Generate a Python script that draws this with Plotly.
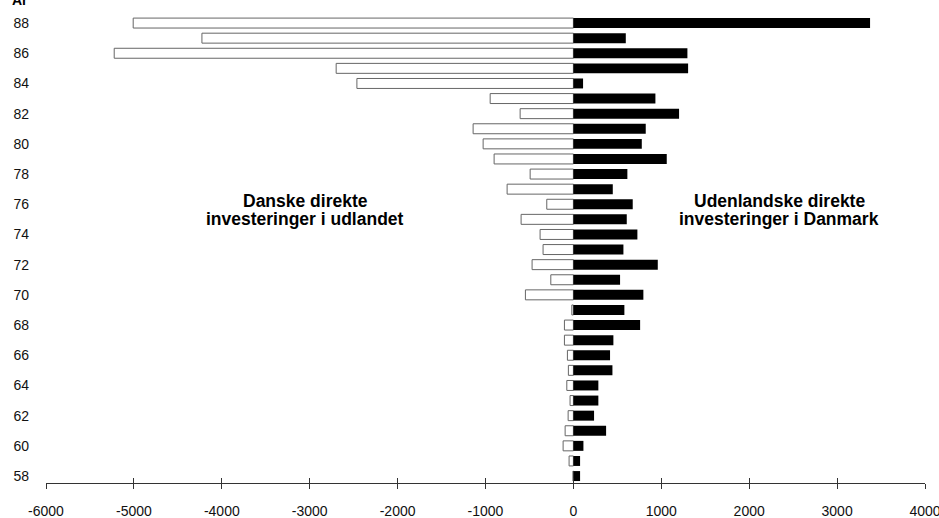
import plotly.graph_objects as go

years = list(range(58, 89))
# Danske direkte investeringer i udlandet (mio. kr.), 1958..1988
danish_abroad = [-5, -49, -117, -94, -60, -38, -75, -57, -68, -102, -102, -18,
                 -546, -257, -470, -345, -379, -595, -303, -754, -492, -902,
                 -1027, -1141, -606, -947, -2463, -2699, -5224, -4226, -5008]
# Udenlandske direkte investeringer i Danmark (mio. kr.), 1958..1988
foreign_in_dk = [76, 76, 114, 372, 235, 284, 284, 444, 417, 455, 759, 580,
                 796, 531, 960, 569, 728, 607, 675, 448, 614, 1062,
                 778, 823, 1202, 933, 110, 1305, 1297, 596, 3375]

x_ticks = list(range(-6000, 4001, 1000))
y_ticks = list(range(58, 89, 2))

FONT = "Liberation Sans, Arial, Helvetica, sans-serif"

fig = go.Figure()
fig.add_trace(go.Bar(
    y=years, x=danish_abroad, orientation="h",
    marker=dict(color="white", line=dict(color="#666666", width=1)),
    name="Danske direkte investeringer i udlandet", showlegend=False,
))
fig.add_trace(go.Bar(
    y=years, x=foreign_in_dk, orientation="h",
    marker=dict(color="black", line=dict(color="black", width=0)),
    name="Udenlandske direkte investeringer i Danmark", showlegend=False,
))
# invisible trace on overlay axis for crossing ticks
fig.add_trace(go.Scatter(x=[x_ticks[0], x_ticks[-1]], y=[years[0], years[0]],
                         xaxis="x2", mode="markers", marker=dict(opacity=0),
                         hoverinfo="skip", showlegend=False))

left_x = (305 - 573.3) / 0.08793
right_x = (779 - 573.3) / 0.08793

fig.update_layout(
    width=939, height=518,
    margin=dict(l=46, r=14, t=14, b=35),
    paper_bgcolor="white", plot_bgcolor="white",
    barmode="overlay", bargap=0.34,
    font=dict(family=FONT, size=14, color="#111111"),
    xaxis=dict(range=[-6000, 4000], tickvals=x_ticks, ticktext=[str(v) for v in x_ticks],
               showgrid=False, zeroline=False, showline=True, linecolor="#333333",
               linewidth=1, ticks="outside", ticklen=5, tickcolor="#333333",
               ticklabelstandoff=10, ticklabeloverflow="allow", automargin=False,
               tickfont=dict(size=14)),
    xaxis2=dict(range=[-6000, 4000], overlaying="x", side="bottom", tickvals=x_ticks,
                showticklabels=False, showgrid=False, zeroline=False, showline=False,
                ticks="inside", ticklen=5, tickcolor="#333333", anchor="y",
                automargin=False),
    yaxis=dict(range=[57.54, 88.6], tickvals=y_ticks, ticktext=[str(v) for v in y_ticks],
               showgrid=False, zeroline=False, showline=False, ticks="",
               ticklabelstandoff=16, automargin=False, tickfont=dict(size=14)),
    annotations=[
        dict(text="<b>Danske direkte</b>", x=left_x, y=76.2, xref="x", yref="y",
             showarrow=False, font=dict(size=17.5, family=FONT, color="black")),
        dict(text="<b>investeringer i udlandet</b>", x=left_x, y=75.05, xref="x", yref="y",
             showarrow=False, font=dict(size=17.5, family=FONT, color="black")),
        dict(text="<b>Udenlandske direkte</b>", x=right_x, y=76.2, xref="x", yref="y",
             showarrow=False, font=dict(size=17.5, family=FONT, color="black")),
        dict(text="<b>investeringer i Danmark</b>", x=right_x, y=75.05, xref="x", yref="y",
             showarrow=False, font=dict(size=17.5, family=FONT, color="black")),
        dict(text="<b>År</b>", x=0, xref="paper", y=1, yref="paper", xanchor="left",
             yanchor="bottom", xshift=-36, yshift=4, showarrow=False,
             font=dict(size=14, family=FONT, color="black")),
    ],
)

fig.write_html("out.html",
               config={"displayModeBar": False},
               post_script="document.body.style.margin='0';document.body.style.padding='0';")
